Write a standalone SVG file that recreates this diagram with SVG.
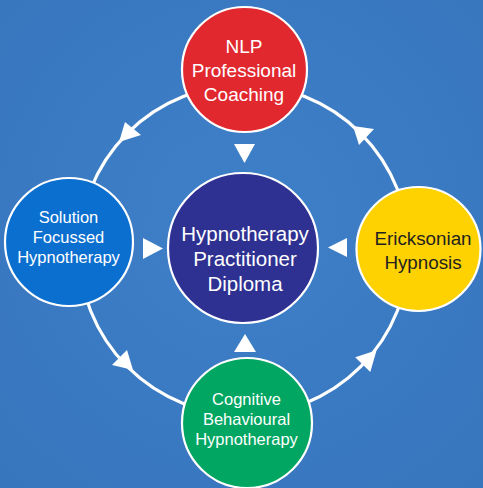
<svg xmlns="http://www.w3.org/2000/svg" width="483" height="488" viewBox="0 0 483 488">
  <defs>
    <radialGradient id="bg" cx="50%" cy="45%" r="75%">
      <stop offset="0" stop-color="#3e80c8"/>
      <stop offset="1" stop-color="#3775bd"/>
    </radialGradient>
  </defs>
  <style>
    .node { stroke: #ffffff; stroke-width: 2.2; }
    .ring { fill: none; stroke: #ffffff; stroke-width: 3.2; }
    .arrow { fill: #ffffff; stroke: none; }
    text { font-family: "Liberation Sans", Arial, sans-serif; text-anchor: middle; fill: #ffffff; }
    .dark { fill: #231f20; }
  </style>
  <rect x="0" y="0" width="483" height="488" fill="url(#bg)"/>

  <g id="connectors">
    <circle class="ring" cx="244" cy="250" r="165"/>
    <!-- ring arrowheads (counter-clockwise flow) -->
    <polygon class="arrow" points="119,142 125,122 141,135"/>
    <polygon class="arrow" points="133,370 127,350 112,365"/>
    <polygon class="arrow" points="376.6,350.2 370.3,371.9 355.2,357.3"/>
    <polygon class="arrow" points="353,126 374,129 359,145"/>
    <!-- arrows pointing to centre -->
    <polygon class="arrow" points="234,144 255,144 244.5,163"/>
    <polygon class="arrow" points="143,238 143,259 163,248.5"/>
    <polygon class="arrow" points="347,238 347,257 328,247.5"/>
    <polygon class="arrow" points="234,352 256,352 245,334"/>
  </g>

  <g id="node-nlp">
    <circle class="node" cx="244.5" cy="69.5" r="62.5" fill="#e1282f"/>
    <text font-size="19" x="244" y="53">NLP</text>
    <text font-size="19" x="244" y="77">Professional</text>
    <text font-size="19" x="244" y="101">Coaching</text>
  </g>

  <g id="node-solution">
    <circle class="node" cx="69" cy="242" r="64" fill="#0b6fcf"/>
    <text font-size="16.5" x="68.5" y="223">Solution</text>
    <text font-size="16.5" x="68.5" y="243">Focussed</text>
    <text font-size="16.5" x="68.5" y="263">Hypnotherapy</text>
  </g>

  <g id="node-ericksonian">
    <circle class="node" cx="418.5" cy="249" r="62" fill="#fed100"/>
    <text class="dark" font-size="18.8" x="423" y="245">Ericksonian</text>
    <text class="dark" font-size="18.8" x="423" y="269">Hypnosis</text>
  </g>

  <g id="node-cognitive">
    <circle class="node" cx="247" cy="423" r="65" fill="#00a661"/>
    <text font-size="16.5" x="246.5" y="405">Cognitive</text>
    <text font-size="16.5" x="246.5" y="425">Behavioural</text>
    <text font-size="16.5" x="246.5" y="445">Hypnotherapy</text>
  </g>

  <g id="node-diploma">
    <circle class="node" cx="243" cy="248" r="75" fill="#2e3191"/>
    <text font-size="20.5" x="245" y="241">Hypnotherapy</text>
    <text font-size="20.5" x="245" y="266">Practitioner</text>
    <text font-size="20.5" x="245" y="291">Diploma</text>
  </g>
</svg>
